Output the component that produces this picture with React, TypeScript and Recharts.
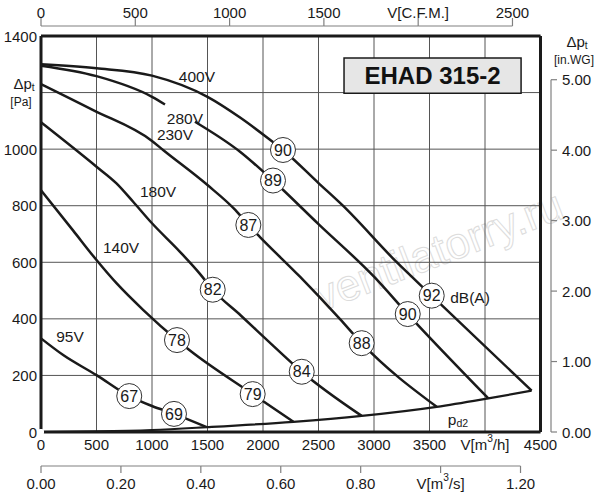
import React from 'react';
import {
  LineChart,
  Line,
  XAxis,
  YAxis,
  CartesianGrid,
  ReferenceDot,
  ReferenceLine,
  ReferenceArea,
} from 'recharts';

// ---------- data ----------
const flowTicks = [0, 500, 1000, 1500, 2000, 2500, 3000, 3500, 4000, 4500];
const flowTickLabels = ['0', '500', '1000', '1500', '2000', '2500', '3000', '3500', 'V[m^{3}/h]', '4500'];
const paTicks = [0, 200, 400, 600, 800, 1000, 1200, 1400];
const paTickLabels = ['0', '200', '400', '600', '800', '1000', '', '1400'];
const cfmTicks = [0, 500, 1000, 1500, 2000, 2500];
const cfmTickLabels = ['0', '500', '1000', '1500', 'V[C.F.M.]', '2500'];
const m3sTicks = [0, 0.2, 0.4, 0.6, 0.8, 1.0, 1.2];
const m3sTickLabels = ['0.00', '0.20', '0.40', '0.60', '0.80', 'V[m^{3}/s]', '1.20'];
const wgTicks = [0, 1, 2, 3, 4, 5];
const wgTickLabels = ['0.00', '1.00', '2.00', '3.00', '4.00', '5.00'];

const FLOW_MAX = 4500;
const PA_MAX = 1400;
const CFM_MAX = 2648.6; // 4500 m3/h in CFM
const M3S_MAX = 1.25; // 4500 m3/h in m3/s
const WG_MAX = 5.6205; // 1400 Pa in in.WG

const curve400 = [
  { q: 0, p: 1300 }, { q: 500, p: 1286 }, { q: 1000, p: 1260 }, { q: 1500, p: 1185 },
  { q: 1800, p: 1110 }, { q: 2060, p: 1034 }, { q: 2180, p: 997 }, { q: 2500, p: 880 },
  { q: 2720, p: 800 }, { q: 3200, p: 602 }, { q: 3520, p: 482 }, { q: 4420, p: 146 },
];
const curve280a = [
  { q: 0, p: 1295 }, { q: 500, p: 1258 }, { q: 1000, p: 1185 }, { q: 1117, p: 1158 },
];
const curve280b = [
  { q: 1387, p: 1097 }, { q: 1793, p: 991 }, { q: 2090, p: 889 }, { q: 2500, p: 735 },
  { q: 3000, p: 549 }, { q: 3304, p: 417 }, { q: 4030, p: 119 },
];
const curve230 = [
  { q: 0, p: 1230 }, { q: 470, p: 1138 }, { q: 1000, p: 1029 }, { q: 1100, p: 997 },
  { q: 1500, p: 873 }, { q: 1750, p: 785 }, { q: 1868, p: 732 }, { q: 1973, p: 689 },
  { q: 2333, p: 549 }, { q: 2694, p: 399 }, { q: 2889, p: 314 }, { q: 3565, p: 89 },
];
const curve180 = [
  { q: 0, p: 1095 }, { q: 500, p: 938 }, { q: 680, p: 879 }, { q: 830, p: 814 },
  { q: 1000, p: 738 }, { q: 1250, p: 638 }, { q: 1430, p: 560 }, { q: 1547, p: 503 },
  { q: 1800, p: 412 }, { q: 2100, p: 302 }, { q: 2349, p: 213 }, { q: 2889, p: 57 },
];
const curve140 = [
  { q: 0, p: 855 }, { q: 290, p: 712 }, { q: 500, p: 608 }, { q: 680, p: 526 },
  { q: 922, p: 431 }, { q: 1225, p: 325 }, { q: 1342, p: 288 }, { q: 1907, p: 134 },
  { q: 2274, p: 36 },
];
const curve95 = [
  { q: 0, p: 331 }, { q: 200, p: 272 }, { q: 500, p: 201 }, { q: 795, p: 127 },
  { q: 1000, p: 92 }, { q: 1198, p: 64 }, { q: 1493, p: 17 },
];
const curvePd2 = [
  { q: 0, p: 0 }, { q: 500, p: 2 }, { q: 1000, p: 7 }, { q: 1493, p: 17 }, { q: 2274, p: 36 },
  { q: 2889, p: 57 }, { q: 3565, p: 89 }, { q: 4030, p: 119 }, { q: 4420, p: 146 },
];
const curves = [curve400, curve280a, curve280b, curve230, curve180, curve140, curve95, curvePd2];

const dbMarks = [
  { q: 2180, p: 997, label: '90' }, { q: 3520, p: 482, label: '92' },
  { q: 2090, p: 889, label: '89' }, { q: 3304, p: 417, label: '90' },
  { q: 1868, p: 732, label: '87' }, { q: 2889, p: 314, label: '88' },
  { q: 1547, p: 503, label: '82' }, { q: 2349, p: 213, label: '84' },
  { q: 1225, p: 325, label: '78' }, { q: 1907, p: 134, label: '79' },
  { q: 795, p: 127, label: '67' }, { q: 1198, p: 64, label: '69' },
];
const curveLabels = [
  { q: 1405, p: 1258, label: '400V' },
  { q: 1297, p: 1110, label: '280V' },
  { q: 1207, p: 1053, label: '230V' },
  { q: 1054, p: 852, label: '180V' },
  { q: 721, p: 654, label: '140V' },
  { q: 261, p: 339, label: '95V' },
  { q: 3865, p: 477, label: 'dB(A)' },
  { q: 3757, p: 47, label: 'p_{d2}' },
];
const titleBox = { q1: 2730, q2: 4325, p1: 1198, p2: 1322, label: 'EHAD 315-2' };
// single anchor points so the secondary axes take part in the chart
const cfmAnchor = [{ q: 0, p: 0 }];
const m3sAnchor = [{ q: 0, p: 0 }];

// ---------- layout / style ----------
const FONT = '"Liberation Sans", Arial, Helvetica, sans-serif';
const INK = '#1a1a1a';
const GRID = '#555555';
const AXIS = '#808080';
const PLOT_LEFT = 41;
const PLOT_RIGHT = 540.5;
const PLOT_TOP = 36;
const PLOT_BOTTOM = 432;
const PLOT_W = PLOT_RIGHT - PLOT_LEFT;
const PLOT_H = PLOT_BOTTOM - PLOT_TOP;
const TICK_FS = 15;

function rich(text: string, size: number) {
  const out: React.ReactNode[] = [];
  const re = /([\^_])\{([^}]*)\}/g;
  let last = 0;
  let cur = 0;
  let key = 0;
  let m: RegExpExecArray | null;
  while ((m = re.exec(text))) {
    if (m.index > last) {
      out.push(<tspan key={key++} dy={0 - cur}>{text.slice(last, m.index)}</tspan>);
      cur = 0;
    }
    const target = m[1] === '^' ? -size * 0.38 : size * 0.3;
    out.push(
      <tspan key={key++} dy={target - cur} fontSize={size * 0.68}>
        {m[2]}
      </tspan>
    );
    cur = target;
    last = m.index + m[0].length;
  }
  if (last < text.length) {
    out.push(<tspan key={key++} dy={0 - cur}>{text.slice(last)}</tspan>);
  }
  return out;
}

const txt = { fontFamily: FONT, fill: INK } as const;

const FlowTick = (props: any) => {
  const { x, payload } = props;
  const label = flowTickLabels[flowTicks.indexOf(payload.value)];
  return (
    <text x={x} y={444} textAnchor="middle" dominantBaseline="central" fontSize={TICK_FS} {...txt}>
      {rich(label, TICK_FS)}
    </text>
  );
};

const M3S_STEP = (PLOT_W * 0.2) / M3S_MAX;
const M3sTick = (props: any) => {
  const { x, payload } = props;
  const i = m3sTicks.findIndex((t) => Math.abs(t - payload.value) < 1e-6);
  const label = m3sTickLabels[i];
  const yLine = 466;
  return (
    <g>
      <line x1={x} x2={x} y1={yLine} y2={yLine + 7} stroke={AXIS} strokeWidth={1.2} />
      {i > 0 && <line x1={x - M3S_STEP} x2={x} y1={yLine} y2={yLine} stroke={AXIS} strokeWidth={1.2} />}
      <text x={x} y={483} textAnchor="middle" dominantBaseline="central" fontSize={TICK_FS} {...txt}>
        {rich(label, TICK_FS)}
      </text>
    </g>
  );
};

const CFM_STEP = (PLOT_W * 500) / CFM_MAX;
const CfmTick = (props: any) => {
  const { x, payload } = props;
  const i = cfmTicks.indexOf(payload.value);
  const label = cfmTickLabels[i];
  const yLine = 26;
  return (
    <g>
      <line x1={x} x2={x} y1={yLine - 8} y2={yLine} stroke={AXIS} strokeWidth={1.2} />
      {i > 0 && <line x1={x - CFM_STEP} x2={x} y1={yLine} y2={yLine} stroke={AXIS} strokeWidth={1.2} />}
      <text x={x} y={12} textAnchor="middle" dominantBaseline="central" fontSize={TICK_FS} {...txt}>
        {rich(label, TICK_FS)}
      </text>
    </g>
  );
};

const PaTick = (props: any) => {
  const { y, payload } = props;
  const i = paTicks.indexOf(payload.value);
  const label = paTickLabels[i];
  if (label === '') {
    return (
      <g>
        <text x={24} y={y - 10} textAnchor="middle" dominantBaseline="central" fontSize={15} {...txt}>
          {rich('Δp_{t}', 15)}
        </text>
        <text x={21} y={y + 9} textAnchor="middle" dominantBaseline="central" fontSize={12} {...txt}>
          [Pa]
        </text>
      </g>
    );
  }
  return (
    <text x={37} y={y} textAnchor="end" dominantBaseline="central" fontSize={TICK_FS} {...txt}>
      {label}
    </text>
  );
};

const WG_STEP = PLOT_H / WG_MAX;
const WgTick = (props: any) => {
  const { y, payload } = props;
  const i = wgTicks.indexOf(payload.value);
  const label = wgTickLabels[i];
  const xLine = 551;
  return (
    <g>
      <line x1={xLine} x2={xLine + 6} y1={y} y2={y} stroke={AXIS} strokeWidth={1.2} />
      {i > 0 && <line x1={xLine} x2={xLine} y1={y} y2={y + WG_STEP} stroke={AXIS} strokeWidth={1.2} />}
      <text x={562} y={y} textAnchor="start" dominantBaseline="central" fontSize={TICK_FS} {...txt}>
        {label}
      </text>
      {i === wgTicks.length - 1 && (
        <g>
          <text x={577} y={y - 39} textAnchor="middle" dominantBaseline="central" fontSize={15} {...txt}>
            {rich('Δp_{t}', 15)}
          </text>
          <text x={574} y={y - 20} textAnchor="middle" dominantBaseline="central" fontSize={12} {...txt}>
            [in.WG]
          </text>
        </g>
      )}
    </g>
  );
};

const makeTextLabel = (label: string, size: number) => (props: any) => {
  const vb = props.viewBox || {};
  const cx = (vb.x || 0) + (vb.width || 0) / 2;
  const cy = (vb.y || 0) + (vb.height || 0) / 2;
  return (
    <text x={cx} y={cy} textAnchor="middle" dominantBaseline="central" fontSize={size} {...txt}>
      {rich(label, size)}
    </text>
  );
};

export default function App() {
  return (
    <div style={{ position: 'absolute', left: 0, top: 0, width: 600, height: 500, background: '#fff' }}>
      <svg width={600} height={500} style={{ position: 'absolute', left: 0, top: 0 }}>
        <text
          x={438}
          y={250}
          transform="rotate(-21 438 250)"
          textAnchor="middle"
          dominantBaseline="central"
          fontSize={44}
          fontFamily={FONT}
          fill="#ffffff"
          stroke="#dcdcdc"
          strokeWidth={1}
        >
          ventilatorry.ru
        </text>
      </svg>
      <div style={{ position: 'absolute', left: 0, top: 0 }}>
        <LineChart width={600} height={500} margin={{ top: 0, right: 0, bottom: 0, left: 0 }}>
          <XAxis
            xAxisId="q"
            dataKey="q"
            type="number"
            domain={[0, FLOW_MAX]}
            ticks={flowTicks}
            interval={0}
            orientation="bottom"
            height={35}
            axisLine={false}
            tickLine={false}
            tick={<FlowTick />}
          />
          <XAxis
            xAxisId="s"
            dataKey="q"
            type="number"
            domain={[0, M3S_MAX]}
            ticks={m3sTicks}
            interval={0}
            orientation="bottom"
            height={33}
            axisLine={false}
            tickLine={false}
            tick={<M3sTick />}
          />
          <XAxis
            xAxisId="cfm"
            dataKey="q"
            type="number"
            domain={[0, CFM_MAX]}
            ticks={cfmTicks}
            interval={0}
            orientation="top"
            height={36}
            axisLine={false}
            tickLine={false}
            tick={<CfmTick />}
          />
          <YAxis
            yAxisId="pa"
            type="number"
            domain={[0, PA_MAX]}
            ticks={paTicks}
            interval={0}
            width={41}
            axisLine={false}
            tickLine={false}
            tick={<PaTick />}
          />
          <YAxis
            yAxisId="wg"
            type="number"
            orientation="right"
            domain={[0, WG_MAX]}
            ticks={wgTicks}
            interval={0}
            width={59.5}
            axisLine={false}
            tickLine={false}
            tick={<WgTick />}
          />
          <CartesianGrid xAxisId="q" yAxisId="pa" stroke={GRID} strokeWidth={1} />
          <ReferenceArea
            xAxisId="q"
            yAxisId="pa"
            x1={titleBox.q1}
            x2={titleBox.q2}
            y1={titleBox.p1}
            y2={titleBox.p2}
            fill="#e6e6e6"
            fillOpacity={1}
            stroke={INK}
            strokeWidth={1.5}
            label={{
              value: titleBox.label,
              position: 'center',
              fontSize: 24,
              fontWeight: 'bold',
              fill: '#111',
              fontFamily: FONT,
            }}
          />
          <Line
            xAxisId="cfm"
            yAxisId="wg"
            data={cfmAnchor}
            dataKey="p"
            stroke="none"
            dot={false}
            activeDot={false}
            legendType="none"
            isAnimationActive={false}
          />
          <Line
            xAxisId="s"
            yAxisId="wg"
            data={m3sAnchor}
            dataKey="p"
            stroke="none"
            dot={false}
            activeDot={false}
            legendType="none"
            isAnimationActive={false}
          />
          {curves.map((c, i) => (
            <Line
              key={i}
              xAxisId="q"
              yAxisId="pa"
              data={c}
              dataKey="p"
              type="monotone"
              stroke={INK}
              strokeWidth={i === curves.length - 1 ? 2.2 : 2.5}
              dot={false}
              activeDot={false}
              isAnimationActive={false}
            />
          ))}
          <ReferenceLine xAxisId="q" yAxisId="pa" x={0} stroke={INK} strokeWidth={3} />
          <ReferenceLine xAxisId="q" yAxisId="pa" x={FLOW_MAX} stroke={INK} strokeWidth={3} />
          <ReferenceLine xAxisId="q" yAxisId="pa" y={0} stroke={INK} strokeWidth={3} />
          <ReferenceLine xAxisId="q" yAxisId="pa" y={PA_MAX} stroke={INK} strokeWidth={3} />
          {dbMarks.map((d, i) => (
            <ReferenceDot
              key={'db' + i}
              xAxisId="q"
              yAxisId="pa"
              x={d.q}
              y={d.p}
              r={12.5}
              fill="#ffffff"
              stroke="#333"
              strokeWidth={1}
              zIndex={1500}
              label={{ value: d.label, position: 'center', fontSize: 16, fill: INK, fontFamily: FONT }}
            />
          ))}
          {curveLabels.map((d, i) => (
            <ReferenceDot
              key={'cl' + i}
              xAxisId="q"
              yAxisId="pa"
              x={d.q}
              y={d.p}
              r={0}
              fill="none"
              stroke="none"
              zIndex={1500}
              label={{ content: makeTextLabel(d.label, 15.5) }}
            />
          ))}
        </LineChart>
      </div>
    </div>
  );
}
